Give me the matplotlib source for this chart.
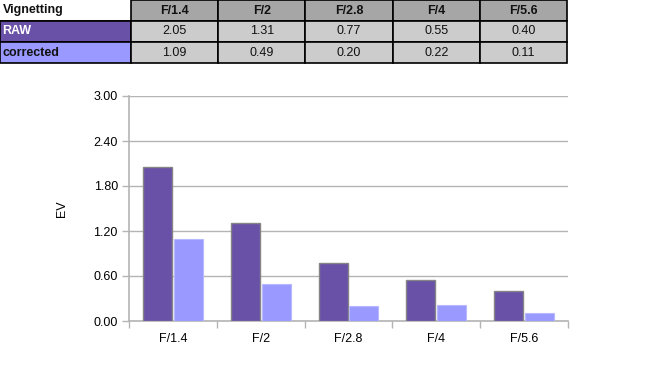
import matplotlib
matplotlib.use("Agg")
import matplotlib.pyplot as plt
import numpy as np

plt.rcParams["font.family"] = ["Liberation Sans", "DejaVu Sans"]

# --- data ---
apertures = ["F/1.4", "F/2", "F/2.8", "F/4", "F/5.6"]
raw_ev = [2.05, 1.31, 0.77, 0.55, 0.40]
corrected_ev = [1.09, 0.49, 0.20, 0.22, 0.11]
series_names = ["RAW", "corrected"]
table_title = "Vignetting"
y_ticks = [0.0, 0.6, 1.2, 1.8, 2.4, 3.0]

RAW_COLOR = "#6a51a8"
COR_COLOR = "#9999ff"
GRID = "#b4b4b4"

W, H = 647, 369
fig = plt.figure(figsize=(W / 100, H / 100), dpi=100)

# --- table on top ---
ax_t = fig.add_axes([0, 1 - 63 / H, 567 / W, 63 / H])
ax_t.axis("off")
cell_text = [[table_title] + apertures,
             [series_names[0]] + [f"{v:.2f}" for v in raw_ev],
             [series_names[1]] + [f"{v:.2f}" for v in corrected_ev]]
col_w = [131] + [87.2] * len(apertures)
col_w = [c / sum(col_w) for c in col_w]
tbl = ax_t.table(cellText=cell_text, colWidths=col_w, bbox=[0, 0, 1, 1])
tbl.auto_set_font_size(False)
for (r, c), cell in tbl.get_celld().items():
    cell.PAD = 0.02
    cell.set_linewidth(1.2)
    cell.set_edgecolor("black")
    txt = cell.get_text()
    txt.set_fontsize(9)
    txt.set_color("#111111")
    if c == 0:
        txt.set_ha("left")
        txt.set_fontweight("bold")
        if r == 0:
            # open cell: only the bottom rule, no fill
            cell.visible_edges = "B"
        elif r == 1:
            cell.set_facecolor(RAW_COLOR)
            txt.set_color("white")
        else:
            cell.set_facecolor(COR_COLOR)
    else:
        txt.set_ha("center")
        if r == 0:
            cell.set_facecolor("#a6a6a6")
            txt.set_fontweight("bold")
        else:
            cell.set_facecolor("#cccccc")

# --- bar chart ---
ax = fig.add_axes([129 / W, (H - 321) / H, (568 - 129) / W, (321 - 96) / H])
x = np.arange(len(apertures))
bw = 0.33
ax.bar(x - 0.175, raw_ev, bw, color=RAW_COLOR, edgecolor="#858585", linewidth=1.0, zorder=3)
ax.bar(x + 0.175, corrected_ev, bw, color=COR_COLOR, edgecolor="#b8b8ff", linewidth=0.8, zorder=3)

ax.set_xlim(-0.5, len(apertures) - 0.5)
ax.set_ylim(0, 3.0)
ax.set_yticks(y_ticks)
ax.set_yticklabels([f"{v:.2f}" for v in y_ticks])
ax.yaxis.grid(True, color=GRID, linewidth=1.0, zorder=0)
ax.set_axisbelow(True)

ax.set_xticks(np.arange(len(apertures) + 1) - 0.5)
ax.set_xticklabels([])
ax.set_xticks(x, minor=True)
ax.set_xticklabels(apertures, minor=True)
ax.tick_params(axis="x", which="major", length=5, width=1, color=GRID, direction="out")
ax.tick_params(axis="x", which="minor", length=0, pad=9, labelsize=9)
ax.tick_params(axis="y", length=5, width=1, color=GRID, pad=3, labelsize=9)

for s in ["top", "right"]:
    ax.spines[s].set_visible(False)
for s in ["left", "bottom"]:
    ax.spines[s].set_color(GRID)
    ax.spines[s].set_linewidth(1.2)

ax.set_ylabel("EV", fontsize=9)
ax.yaxis.set_label_coords(-0.139, 0.5)

fig.savefig("out.png", dpi=100)
